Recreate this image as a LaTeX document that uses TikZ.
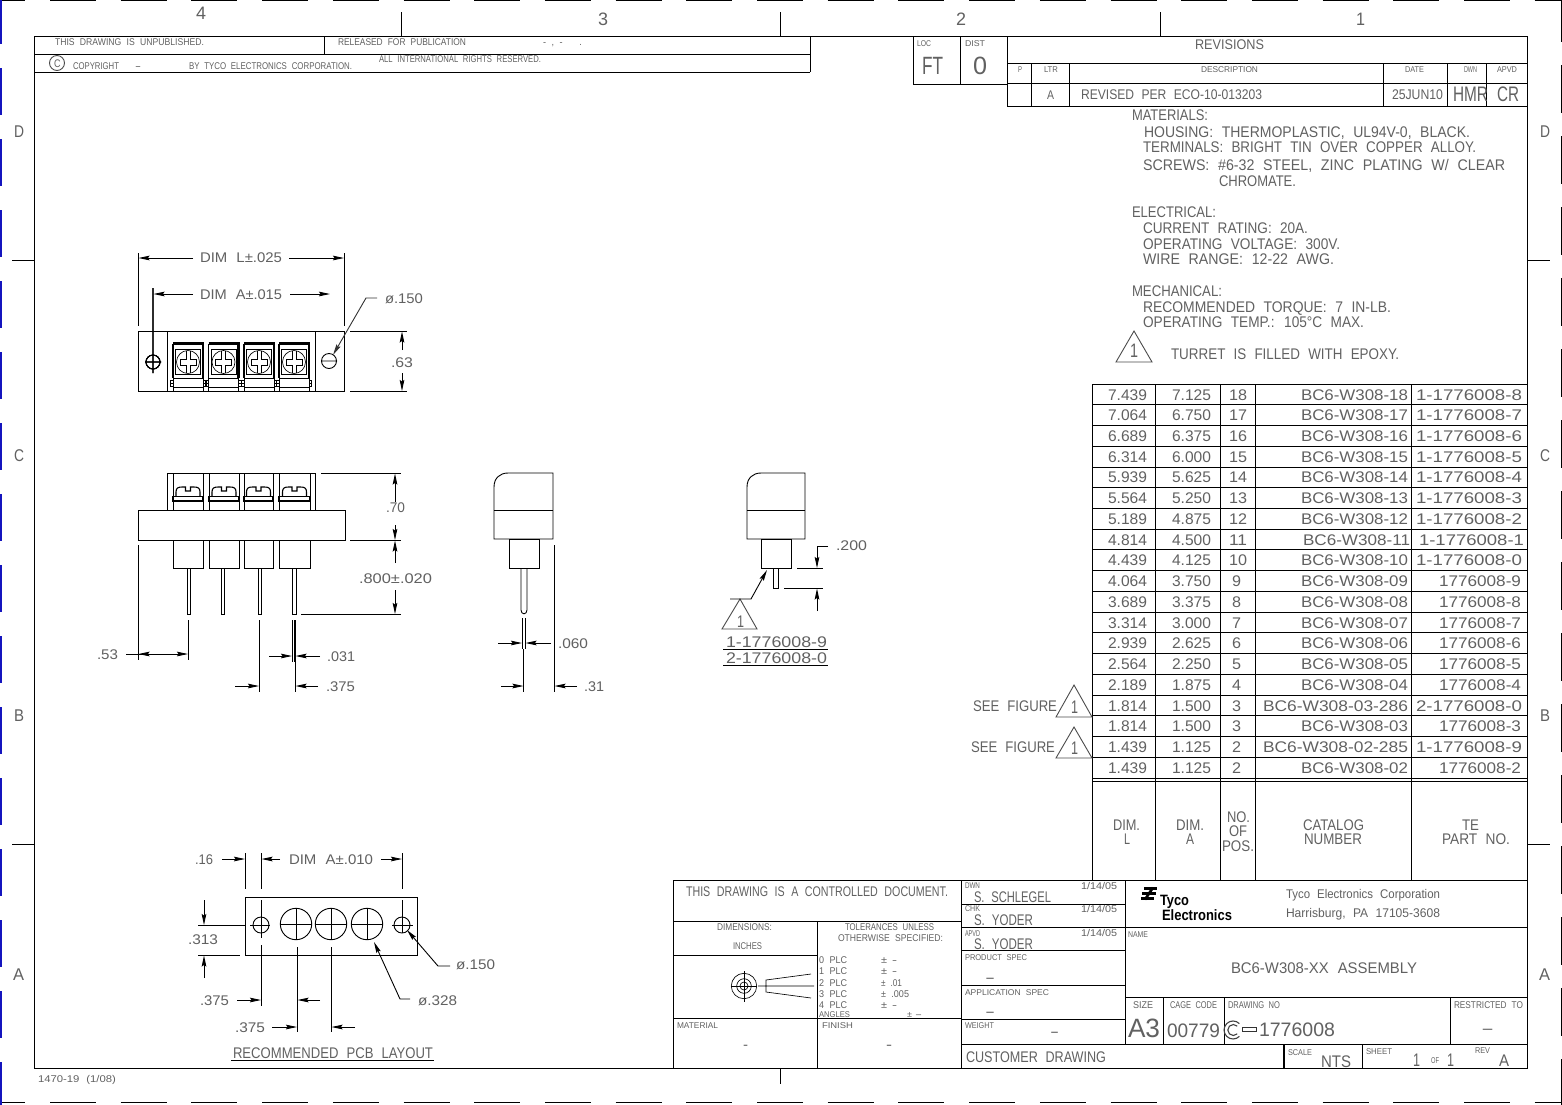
\documentclass[tikz,border=0pt]{standalone}
\usepackage{fontspec}
\usepackage{graphicx}
\setmainfont[WordSpace=2.2]{Liberation Sans}
\usetikzlibrary{arrows.meta}
\definecolor{bluedash}{RGB}{20,20,190}
\newcounter{tx}
% \tx{left}{right}{baseline}{font size}{text}
\newcommand\tx[5]{\stepcounter{tx}\pgfmathsetmacro\txw{#2-#1}%
  \node[txt] (t\arabic{tx}) at (#1,#3) {\resizebox{\txw pt}{\height}{\fontsize{#4}{#4}\selectfont #5}};}
\newcommand\term[1]{\begin{scope}[shift={(#1,0)}]
  \draw[line width=1.2pt] (-15,343.5)--(-15,378);
  \draw[line width=2.2pt] (-15,343.5)--(15,343.5)--(15,378);
  \draw[thn] (-12.5,349) rectangle (12.5,374.5);
  \draw[thn] (0,362) circle[radius=11.5pt];
  \draw[thn] (-2,350.7)--(-2,359)--(-8,359)--(-8,365)--(-2,365)--(-2,373.3);
  \draw[thn] (2,350.7)--(2,359)--(8,359)--(8,365)--(2,365)--(2,373.3);
  \draw[ln] (-15,378) rectangle (15,391);
  \draw[ln] (-15,387)--(15,387);
  \draw[thn] (-17.5,380.5) rectangle (-15,383.5) (-17.5,383.5) rectangle (-15,386.5);
  \draw[thn] (15,380.5) rectangle (17.5,383.5) (15,383.5) rectangle (17.5,386.5);
\end{scope}}
\newcommand\cell[2]{\pgfmathsetmacro\cx{(#1+#2)/2}
  \draw[ln] (#1,473)--(#1,510) (#2,473)--(#2,510);
  \draw[line width=1.8pt] (#1,496.5) rectangle (#2,501);
  \begin{scope}[shift={(\cx,0)}]
  \draw[line width=1.1pt] (-12,496)--(-12,492) .. controls (-12,488) and (-10,487) .. (-6,487)--(-2.5,487)--(-2.5,491)--(2.5,491)--(2.5,487)--(6,487) .. controls (10,487) and (12,488) .. (12,492)--(12,496);
  \end{scope}
  \draw[ln] (#1,540) rectangle (#2,568);}
\newcommand\tri[3]{\draw[ln,draw=black!70] (#1-18,#2+#3)--(#1,#2)--(#1+18,#2+#3)--cycle;}
\begin{document}
\begin{tikzpicture}[x=1pt,y=-1pt,
  txt/.style={anchor=base west,inner sep=0pt,outer sep=0pt,text=black!62},
  ln/.style={line width=.9pt,black},
  thn/.style={line width=.65pt,black},
  thk/.style={line width=1.6pt,black},
  dm/.style={line width=.9pt,black,-{Stealth[length=11pt,width=4.6pt,inset=1.5pt]}},
  logo/.style={line width=2.3pt,black}]
\useasboundingbox (0,0) rectangle (1562,1104);
\fill[white] (0,0) rectangle (1562,1104);
% sheet edge marks
\foreach \k in {0,...,22} {
  \draw[line width=1.4pt] (-20.7+70.7*\k,.7)--(25.3+70.7*\k,.7);
  \draw[line width=1.4pt] (-20.7+70.7*\k,1102.5)--(25.3+70.7*\k,1102.5);}
\foreach \k in {0,...,15} {
  \draw[line width=1.6pt,bluedash] (.8,-3+71*\k)--(.8,44+71*\k);
  \draw[line width=1.2pt] (1561.3,-6+71*\k)--(1561.3,42+71*\k);}
% frame
\draw[ln] (34,36) rectangle (1527,1068);
\draw[ln] (401,12)--(401,36) (780,12)--(780,36) (1160,12)--(1160,36) (780,1068)--(780,1084);
\draw[ln] (12,260)--(34,260) (12,844)--(34,844) (1527,260)--(1550,260) (1527,844)--(1550,844);
\tx{196}{206}{19}{18}{4}
\tx{598}{608}{25}{18}{3}
\tx{956}{966}{25}{18}{2}
\tx{1356}{1365}{25}{18}{1}
\tx{14}{24}{137}{17}{D} \tx{1540}{1550}{137}{17}{D}
\tx{14}{24}{461}{17}{C} \tx{1540}{1550}{461}{17}{C}
\tx{14}{24}{721}{17}{B} \tx{1540}{1550}{721}{17}{B}
\tx{13}{24}{980}{17}{A} \tx{1539}{1550}{980}{17}{A}
% top-left notice
\draw[ln] (34,54)--(810,54) (34,72)--(810,72) (810,36)--(810,72) (324,36)--(324,54);
\tx{55}{204}{45}{9.8}{THIS DRAWING IS UNPUBLISHED.}
\tx{338}{466}{45}{9.8}{RELEASED FOR PUBLICATION}
\tx{543}{582}{45}{9.8}{- , -\ \ \ .}
\draw[ln,draw=black!70] (57,63) circle[radius=7.5pt];
\tx{54}{60.5}{67}{11}{C}
\tx{73}{119}{69}{9.8}{COPYRIGHT}
\tx{135}{141}{69}{9.8}{-}
\tx{189}{352}{69}{9.8}{BY TYCO ELECTRONICS CORPORATION.}
\tx{379}{541}{62}{9.8}{ALL INTERNATIONAL RIGHTS RESERVED.}
% revisions
\draw[ln] (913,36)--(913,84)--(1007,84) (960,36)--(960,84) (1007,36)--(1007,106)--(1527,106);
\draw[ln] (1007,63)--(1527,63) (1007,83)--(1527,83);
\foreach \v in {1031,1069,1383,1447,1486} \draw[ln] (\v,63)--(\v,106);
\tx{917}{931}{46}{8.4}{LOC}
\tx{965}{985}{46}{8.4}{DIST}
\tx{922}{943}{74}{25}{FT}
\tx{973}{987}{74}{25}{0}
\tx{1195}{1264}{49}{14}{REVISIONS}
\tx{1018}{1022}{72}{8.4}{P}
\tx{1044}{1058}{72}{8.4}{LTR}
\tx{1201}{1258}{72}{8.4}{DESCRIPTION}
\tx{1405}{1424}{72}{8.4}{DATE}
\tx{1464}{1477}{72}{8.4}{DWN}
\tx{1497}{1517}{72}{8.4}{APVD}
\tx{1047}{1054}{99}{12.6}{A}
\tx{1081}{1262}{99}{14}{REVISED PER ECO-10-013203}
\tx{1392}{1443}{99}{14}{25JUN10}
\tx{1453}{1488}{101}{21}{HMR}
\tx{1497}{1519}{101}{21}{CR}
% notes
\tx{1132}{1208}{120}{15.4}{MATERIALS:}
\tx{1144}{1470}{137}{15.4}{HOUSING: THERMOPLASTIC, UL94V-0, BLACK.}
\tx{1143}{1476}{152}{15.4}{TERMINALS: BRIGHT TIN OVER COPPER ALLOY.}
\tx{1143}{1505}{170}{15.4}{SCREWS: \#6-32 STEEL, ZINC PLATING W/ CLEAR}
\tx{1219}{1296}{186}{15.4}{CHROMATE.}
\tx{1132}{1216}{217}{15.4}{ELECTRICAL:}
\tx{1143}{1308}{233}{15.4}{CURRENT RATING: 20A.}
\tx{1143}{1340}{249}{15.4}{OPERATING VOLTAGE: 300V.}
\tx{1143}{1334}{264}{15.4}{WIRE RANGE: 12-22 AWG.}
\tx{1132}{1222}{296}{15.4}{MECHANICAL:}
\tx{1143}{1391}{312}{15.4}{RECOMMENDED TORQUE: 7 IN-LB.}
\tx{1143}{1364}{327}{15.4}{OPERATING TEMP.: 105\textdegree C MAX.}
\tri{1134}{331}{31}
\tx{1130}{1138}{357}{19.5}{1}
\tx{1171}{1399}{359}{15.4}{TURRET IS FILLED WITH EPOXY.}
% parts table
\foreach \i in {0,...,19} \draw[ln] (1092,384+20.74*\i)--(1527,384+20.74*\i);
\draw[ln] (1092,781)--(1527,781);
\foreach \v in {1092,1155,1220,1255,1411} \draw[ln] (\v,384)--(\v,880);
\foreach \i/\a/\b/\n/\nl/\nr/\c/\cl/\cr/\p/\pl/\pr in {
0/7.439/7.125/18/1229/1247/BC6-W308-18/1301/1408/1-1776008-8/1416/1522,
1/7.064/6.750/17/1229/1247/BC6-W308-17/1301/1408/1-1776008-7/1416/1522,
2/6.689/6.375/16/1229/1247/BC6-W308-16/1301/1408/1-1776008-6/1416/1522,
3/6.314/6.000/15/1229/1247/BC6-W308-15/1301/1408/1-1776008-5/1416/1522,
4/5.939/5.625/14/1229/1247/BC6-W308-14/1301/1408/1-1776008-4/1416/1522,
5/5.564/5.250/13/1229/1247/BC6-W308-13/1301/1408/1-1776008-3/1416/1522,
6/5.189/4.875/12/1229/1247/BC6-W308-12/1301/1408/1-1776008-2/1416/1522,
7/4.814/4.500/11/1229/1247/BC6-W308-11/1303/1410/1-1776008-1/1419/1524,
8/4.439/4.125/10/1229/1247/BC6-W308-10/1301/1408/1-1776008-0/1416/1522,
9/4.064/3.750/9/1232/1241/BC6-W308-09/1301/1408/1776008-9/1439/1521,
10/3.689/3.375/8/1232/1241/BC6-W308-08/1301/1408/1776008-8/1439/1521,
11/3.314/3.000/7/1232/1241/BC6-W308-07/1301/1408/1776008-7/1439/1521,
12/2.939/2.625/6/1232/1241/BC6-W308-06/1301/1408/1776008-6/1439/1521,
13/2.564/2.250/5/1232/1241/BC6-W308-05/1301/1408/1776008-5/1439/1521,
14/2.189/1.875/4/1232/1241/BC6-W308-04/1301/1408/1776008-4/1439/1521,
15/1.814/1.500/3/1232/1241/BC6-W308-03-286/1263/1408/2-1776008-0/1416/1522,
16/1.814/1.500/3/1232/1241/BC6-W308-03/1301/1408/1776008-3/1439/1521,
17/1.439/1.125/2/1232/1241/BC6-W308-02-285/1263/1408/1-1776008-9/1416/1522,
18/1.439/1.125/2/1232/1241/BC6-W308-02/1301/1408/1776008-2/1439/1521} {
  \pgfmathsetmacro\by{400+20.74*\i}
  \tx{1108}{1147}{\by}{15.4}{\a}
  \tx{1172}{1211}{\by}{15.4}{\b}
  \tx{\nl}{\nr}{\by}{15.4}{\n}
  \tx{\cl}{\cr}{\by}{15.4}{\c}
  \tx{\pl}{\pr}{\by}{15.4}{\p}
}
\tx{1113}{1140}{830}{15.4}{DIM.}
\tx{1124}{1130}{844}{15.4}{L}
\tx{1176}{1204}{830}{15.4}{DIM.}
\tx{1186}{1194}{844}{15.4}{A}
\tx{1227}{1250}{822}{15.4}{NO.}
\tx{1229}{1247}{836}{15.4}{OF}
\tx{1222}{1254}{851}{15.4}{POS.}
\tx{1303}{1364}{830}{15.4}{CATALOG}
\tx{1304}{1362}{844}{15.4}{NUMBER}
\tx{1462}{1479}{830}{15.4}{TE}
\tx{1442}{1510}{844}{15.4}{PART NO.}
\tx{973}{1057}{711}{15.4}{SEE FIGURE}
\tri{1074}{685}{32}
\tx{1071}{1078}{713}{18.2}{1}
\tx{971}{1055}{752}{15.4}{SEE FIGURE}
\tri{1074}{727}{31}
\tx{1071}{1078}{754}{18.2}{1}
% title block
\draw[thk] (673,880.5)--(1527,880.5);
\draw[ln] (673,880)--(673,1068);
\draw[ln] (961,880)--(961,1068) (1125,880)--(1125,1044);
\draw[ln] (673,921)--(961,921) (817,921)--(817,1068) (673,955)--(817,955) (673,1018)--(961,1018);
\draw[ln] (961,904)--(1125,904) (961,927)--(1125,927) (961,950)--(1125,950) (961,985)--(1125,985) (961,1019)--(1125,1019);
\draw[thk] (961,1044.5)--(1284,1044.5) (1284,1044.5)--(1284,1068);
\draw[ln] (1125,927)--(1527,927) (1125,997)--(1527,997) (1163,997)--(1163,1044) (1224,997)--(1224,1044) (1450,997)--(1450,1044) (1284,1044.5)--(1527,1044.5) (1362,1044.5)--(1362,1068);
\tx{686}{948}{896}{14}{THIS DRAWING IS A CONTROLLED DOCUMENT.}
\tx{717}{772}{930}{9.8}{DIMENSIONS:}
\tx{733}{762}{949}{9.8}{INCHES}
\tx{845}{934}{930}{9.8}{TOLERANCES UNLESS}
\tx{838}{943}{941}{9.8}{OTHERWISE SPECIFIED:}
\tx{819}{847}{963}{9.8}{0 PLC} \tx{881}{887}{963}{9.8}{\textpm} \tx{892}{897}{963}{9.8}{-}
\tx{819}{847}{974}{9.8}{1 PLC} \tx{881}{887}{974}{9.8}{\textpm} \tx{892}{897}{974}{9.8}{-}
\tx{819}{847}{986}{9.8}{2 PLC} \tx{881}{902}{986}{9.8}{\textpm\ .01}
\tx{819}{847}{997}{9.8}{3 PLC} \tx{881}{909}{997}{9.8}{\textpm\ .005}
\tx{819}{847}{1008}{9.8}{4 PLC} \tx{881}{887}{1008}{9.8}{\textpm} \tx{892}{897}{1008}{9.8}{-}
\tx{819}{850}{1017}{8.4}{ANGLES} \tx{907}{912}{1017}{8.4}{\textpm} \tx{915}{922}{1017}{8.4}{-}
\draw[thn] (744,986) circle[radius=12.7pt] (744,986) circle[radius=7.3pt] (744,986) circle[radius=4pt];
\draw[thn] (731,986)--(757,986) (744,971)--(744,1002);
\draw[thn] (811,974)--(766,980)--(766,992)--(811,998) (758,986)--(814,986);
\tx{677}{718}{1028}{8.4}{MATERIAL}
\tx{743}{748}{1049}{14}{-}
\tx{822}{853}{1028}{8.4}{FINISH}
\tx{886}{892}{1049}{14}{-}
\tx{965}{980}{888}{8.4}{DWN}
\tx{1081}{1117}{889}{9.8}{1/14/05}
\tx{974}{1051}{902}{15.4}{S. SCHLEGEL}
\tx{965}{980}{911}{8.4}{CHK}
\tx{1081}{1117}{912}{9.8}{1/14/05}
\tx{974}{1033}{925}{15.4}{S. YODER}
\tx{965}{980}{936}{8.4}{APVD}
\tx{1081}{1117}{936}{9.8}{1/14/05}
\tx{974}{1033}{949}{15.4}{S. YODER}
\tx{965}{1027}{960}{8.4}{PRODUCT SPEC}
\tx{985}{995}{982}{14}{-}
\tx{965}{1049}{995}{8.4}{APPLICATION SPEC}
\tx{985}{995}{1016}{14}{-}
\tx{965}{994}{1028}{8.4}{WEIGHT}
\tx{1050}{1059}{1036}{14}{-}
\tx{966}{1106}{1062}{15.4}{CUSTOMER DRAWING}
% logo
\draw[logo] (1144,888.5)--(1157,888.5) (1142,893.5)--(1156,893.5) (1141,898.5)--(1154,898.5);
\draw[line width=2.6pt] (1153,887.5)--(1145,899.5);
\node[txt,text=black] (logoa) at (1160,905) {\resizebox{29pt}{\height}{\fontsize{15}{15}\selectfont\bfseries Tyco}};
\node[txt,text=black] (logob) at (1162,920) {\resizebox{70pt}{\height}{\fontsize{15}{15}\selectfont\bfseries Electronics}};
\tx{1286}{1440}{898}{12.6}{Tyco Electronics Corporation}
\tx{1286}{1440}{917}{12.6}{Harrisburg, PA 17105-3608}
\tx{1128}{1148}{937}{8.4}{NAME}
\tx{1231}{1417}{973}{15.4}{BC6-W308-XX ASSEMBLY}
\tx{1133}{1153}{1008}{9.8}{SIZE}
\tx{1170}{1217}{1008}{9.8}{CAGE CODE}
\tx{1228}{1280}{1008}{9.8}{DRAWING NO}
\tx{1454}{1523}{1008}{9.8}{RESTRICTED TO}
\tx{1128}{1160}{1037}{26.5}{A3}
\tx{1167}{1220}{1037}{19.5}{00779}
\draw[line width=1.1pt,black!75] (1239.4,1023.6) arc[start angle=45,end angle=315,radius=9pt];
\draw[line width=1.1pt,black!75] (1237.2,1026.1) arc[start angle=45,end angle=315,radius=5.5pt];
\draw[ln,draw=black!80] (1242,1027) rectangle (1256,1031);
\tx{1259}{1335}{1036}{19.5}{1776008}
\tx{1481}{1494}{1033}{14}{-}
\tx{1288}{1312}{1055}{8.4}{SCALE}
\tx{1321}{1351}{1067}{16.8}{NTS}
\tx{1366}{1392}{1054}{8.4}{SHEET}
\tx{1413}{1420}{1066}{18.2}{1}
\tx{1431}{1439}{1063}{8.4}{OF}
\tx{1447}{1454}{1066}{18.2}{1}
\tx{1475}{1490}{1053}{8.4}{REV}
\tx{1499}{1509}{1066}{16.8}{A}
\tx{38}{116}{1082}{9.8}{1470-19 (1/08)}
% view 1: top
\draw[ln] (138,331) rectangle (344,391);
\draw[ln] (167,331)--(167,391) (315,331)--(315,391);
\foreach \c in {188,223.5,259,294} \term{\c}
\draw[ln] (153,362) circle[radius=7pt] (145,362)--(161,362) (153,288)--(153,373);
\draw[ln] (329,361) circle[radius=7.5pt] (321,361)--(337,361);
\draw[ln] (138,253)--(138,326) (344,253)--(344,326);
\draw[dm] (193,258)--(138.5,258);
\draw[dm] (289,258)--(344,258);
\tx{200}{282}{262}{14}{DIM L\textpm.025}
\draw[dm] (193,294)--(153.5,294);
\draw[dm] (290,294)--(330,294);
\tx{200}{282}{299}{14}{DIM A\textpm.015}
\draw[dm,black!80] (377,298)--(366,298)--(333,355);
\tx{385}{423}{303}{14}{\o.150}
\draw[ln] (350,331)--(407,331) (350,391)--(407,391);
\draw[dm] (402,350)--(402,331.5);
\draw[dm] (402,373)--(402,391);
\tx{391}{413}{367}{14}{.63}
% view 2: front
\draw[ln] (138,510) rectangle (345,540);
\draw[ln] (167,510)--(167,473)--(315,473)--(315,510);
\cell{173}{203}\cell{209}{239}\cell{244}{273}\cell{279}{310}
\draw[ln] (187,568) rectangle (190,614) (221,568) rectangle (224,614) (258,568) rectangle (261,614) (292,568) rectangle (296,614);
\draw[ln] (321,473)--(401,473) (350,540)--(401,540) (301,614)--(401,614);
\draw[dm] (395,502)--(395,473.5);
\draw[dm] (395,525)--(395,540);
\tx{386}{405}{512}{14}{.70}
\draw[dm] (395,563)--(395,540.5);
\draw[dm] (395,590)--(395,614);
\tx{359}{432}{583}{14}{.800\textpm.020}
\draw[ln] (138,545)--(138,660) (188,620)--(188,660);
\draw[ln] (126,654)--(160,654);
\draw[dm] (160,654)--(138.5,654);
\draw[dm] (160,654)--(188,654);
\tx{97}{118}{659}{14}{.53}
\draw[ln] (292,620)--(292,662);
\draw[line width=1.4pt] (295,620)--(295,662);
\draw[dm] (269,656)--(292,656);
\draw[dm] (320,656)--(295.5,656);
\tx{327}{355}{661}{14}{.031}
\draw[ln] (259,620)--(259,692) (295,662)--(295,692);
\draw[dm] (235,686)--(259,686);
\draw[dm] (318,686)--(295.5,686);
\tx{326}{355}{691}{14}{.375}
% view 3: side
\draw[ln] (494,539)--(494,487) .. controls (494,478) and (500,473) .. (508,473)--(553,473)--(553,539)--cycle;
\draw[ln] (494,510)--(553,510);
\draw[ln] (509,539) rectangle (539,568);
\draw[ln] (521,568)--(521,610) .. controls (521,615) and (527,615) .. (527,610)--(527,568);
\draw[ln] (522,618)--(522,649) (525,618)--(525,649) (523.5,649)--(523.5,692) (554,545)--(554,692);
\draw[dm] (498,643)--(522,643);
\draw[dm] (551,643)--(525.5,643);
\tx{558}{588}{648}{14}{.060}
\draw[dm] (501,686)--(523.5,686);
\draw[dm] (577,686)--(554.5,686);
\tx{584}{604}{691}{14}{.31}
% view 4: figure 1
\draw[ln] (747,539)--(747,487) .. controls (747,478) and (753,473) .. (761,473)--(805,473)--(805,539)--cycle;
\draw[ln] (747,510)--(805,510);
\draw[ln] (761,539) rectangle (791,568);
\draw[ln] (773,568) rectangle (778,588);
\draw[ln] (797,568)--(823,568) (784,588)--(823,588);
\draw[ln] (828,546)--(817,546);
\draw[dm] (817,546)--(817,568);
\draw[dm] (817,611)--(817,588.5);
\tx{836}{867}{550}{14}{.200}
\draw[ln,draw=black!70] (722,629)--(740,599)--(757,629)--cycle;
\draw[dm] (730,599)--(751,599)--(767,570);
\tx{737}{744}{627}{16.8}{1}
\tx{726}{827}{647}{15.4}{1-1776008-9}
\draw[ln] (723,649.5)--(828,649.5);
\tx{726}{827}{663}{15.4}{2-1776008-0}
\draw[ln] (723,665.5)--(828,665.5);
% view 5: PCB layout
\draw[ln] (245,897) rectangle (417,955);
\draw[ln] (261,925) circle[radius=8pt] (402,925) circle[radius=8pt];
\draw[ln] (198,925)--(245,925) (250,925)--(270,925) (392,925)--(413,925);
\draw[ln] (261,853)--(261,889) (261,900)--(261,938) (261,945)--(261,1006);
\draw[ln] (402,853)--(402,889) (402,900)--(402,933);
\draw[ln] (245.5,853)--(245.5,889);
\foreach \c in {296,331,367} {
  \draw[ln] (\c,924) circle[radius=15.7pt];
  \draw[ln] (\c-15.7,924)--(\c+15.7,924) (\c,908.3)--(\c,939.7);}
\draw[ln] (297,947)--(297,1032) (331,947)--(331,1032);
\draw[dm] (222,859)--(245,859);
\draw[dm] (280,859)--(261.5,859);
\draw[dm] (381,859)--(402,859);
\tx{195}{213}{864}{14}{.16}
\tx{289}{373}{864}{14}{DIM A\textpm.010}
\draw[ln] (198,955)--(240,955);
\draw[dm] (204,900)--(204,925);
\draw[dm] (204,978)--(204,955.5);
\tx{188}{218}{944}{14}{.313}
\draw[dm] (237,1000)--(261,1000);
\draw[dm] (320,1000)--(297.5,1000);
\tx{200}{229}{1005}{14}{.375}
\draw[dm] (272,1027)--(297,1027);
\draw[dm] (355,1027)--(331.5,1027);
\tx{235}{265}{1032}{14}{.375}
\draw[dm] (450,966)--(438,966)--(407,930);
\tx{456}{495}{969}{14}{\o.150}
\draw[dm] (410,999)--(400,999)--(374,942);
\tx{418}{457}{1005}{14}{\o.328}
\tx{233}{433}{1058}{15.4}{RECOMMENDED PCB LAYOUT}
\draw[ln] (231,1060.5)--(434,1060.5);
\end{tikzpicture}
\end{document}
